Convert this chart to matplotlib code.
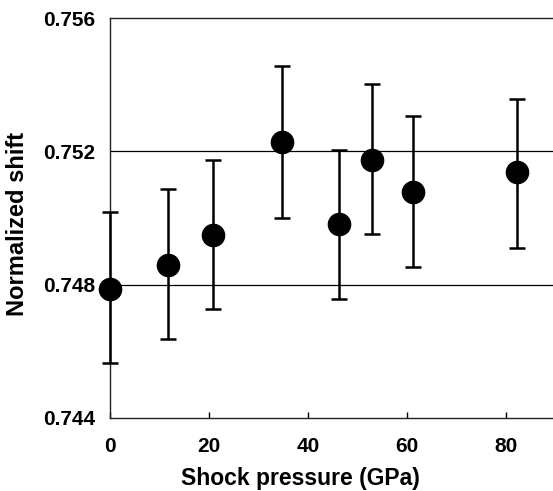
import numpy as np
import matplotlib
matplotlib.use('Agg')
import matplotlib.pyplot as plt

plt.rcParams['font.family'] = ['Liberation Sans', 'DejaVu Sans']

pressure = [0, 11.7, 20.9, 34.7, 46.3, 52.9, 61.3, 82.2]  # GPa
shift = [0.74787, 0.74858, 0.74949, 0.75228, 0.74983, 0.75173, 0.75077, 0.75137]
err_hi = [0.00230, 0.00228, 0.00226, 0.00227, 0.00222, 0.00228, 0.00228, 0.00221]
err_lo = [0.00221, 0.00221, 0.00222, 0.00227, 0.00227, 0.00220, 0.00225, 0.00227]

xticks = [0, 20, 40, 60, 80]
yticks = [0.744, 0.748, 0.752, 0.756]
grid_y = [0.748, 0.752]

fig = plt.figure(figsize=(5.53, 4.91), dpi=100)
ax = fig.add_axes([0.199, 0.149, 0.801, 0.814])

for g in grid_y:
    ax.axhline(g, color='black', lw=0.9, zorder=1)

ax.errorbar(pressure, shift, yerr=[err_lo, err_hi], fmt='o', color='black',
            ms=16, ecolor='black', elinewidth=1.8, capsize=6, capthick=1.8, zorder=3,
            clip_on=False)

ax.set_xlim(0, 89.5)
ax.set_ylim(0.744, 0.756)
ax.set_xticks(xticks)
ax.set_yticks(yticks)
ax.set_yticklabels(['%.3f' % v for v in yticks])
ax.tick_params(axis='x', direction='in', length=4, width=1, pad=14, labelsize=15)
ax.tick_params(axis='y', length=0, pad=11, labelsize=15)
for lbl in ax.get_xticklabels() + ax.get_yticklabels():
    lbl.set_fontweight('bold')

ax.spines['right'].set_visible(False)
for s in ['left', 'bottom', 'top']:
    ax.spines[s].set_linewidth(1.0)
    ax.spines[s].set_color('#222222')

ax.set_xlabel('Shock pressure (GPa)', fontsize=16.5, fontweight='bold', labelpad=9)
ax.set_ylabel('Normalized shift', fontsize=17, fontweight='bold', labelpad=10)
ax.xaxis.set_label_coords(0.43, -0.122)
ax.yaxis.label.set_y(0.485)

fig.savefig('out.png', dpi=100)
